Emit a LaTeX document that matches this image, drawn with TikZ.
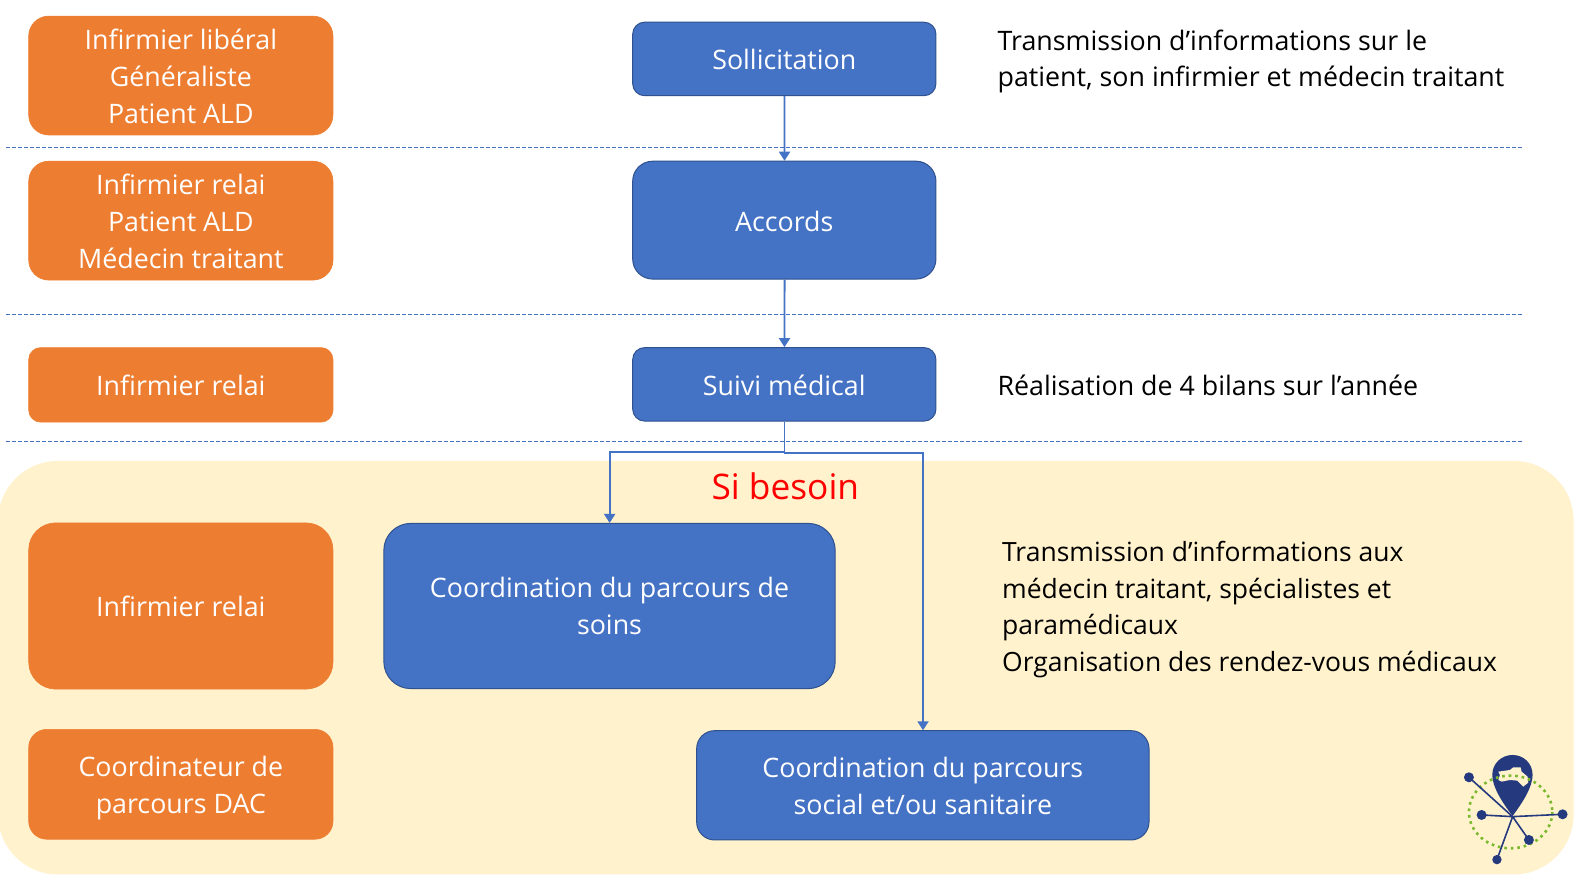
\documentclass[tikz,border=0pt]{standalone}
\usepackage{fontspec}
\setmainfont{Open Sans}
\usetikzlibrary{arrows.meta}
\definecolor{obox}{HTML}{ED7D31}
\definecolor{bbox}{HTML}{4472C4}
\definecolor{bedge}{HTML}{2F528F}
\definecolor{cream}{HTML}{FFF2CC}
\definecolor{navy}{HTML}{25397F}
\definecolor{lgreen}{HTML}{7AB82E}
\newcommand{\nudge}{\rule{0pt}{22.2pt}}
\tikzset{
  every node/.style={transform shape},
  txt/.style={font=\fontsize{26.6}{36.6}\selectfont},
  orangebox/.style={txt,draw=obox,fill=obox,text=white,align=center,inner sep=0pt,line width=.6pt},
  bluebox/.style={txt,draw=bedge,fill=bbox,text=white,align=center,inner sep=0pt,line width=1pt},
  note/.style={txt,text=black,align=left,anchor=west,inner sep=0pt},
  link/.style={draw=bbox,line width=1.9pt,-{Triangle[width=11pt,length=9pt]}},
  sep/.style={draw=bbox,line width=.8pt,dash pattern=on 4pt off 2pt}
}
\begin{document}
\begin{tikzpicture}[x=1pt,y=-1pt,scale=1.0075]
\useasboundingbox (0,0) rectangle (1567.3,874.4);
\fill[white] (0,0) rectangle (1567.3,874.4);
\fill[cream,rounded corners=60pt] (-2,457.5) rectangle (1562,868);
\draw[sep] (6,146) -- (1512,146);
\draw[sep] (6,312) -- (1512,312);
\draw[sep] (6,438) -- (1512,438);
% orange
\node[orangebox,rounded corners=20pt,minimum width=302pt,minimum height=118pt] (o1) at (179.5,75) {\nudge Infirmier libéral\\Généraliste\\Patient ALD};
\node[orangebox,rounded corners=20pt,minimum width=302pt,minimum height=118pt] (o2) at (179.5,219) {\nudge Infirmier relai\\Patient ALD\\Médecin traitant};
\node[orangebox,rounded corners=12pt,minimum width=302pt,minimum height=74pt] (o3) at (179.5,382) {\nudge Infirmier relai};
\node[orangebox,rounded corners=27pt,minimum width=302pt,minimum height=165pt] (o4) at (179.5,601.5) {Infirmier relai};
\node[orangebox,rounded corners=18pt,minimum width=302pt,minimum height=109pt] (o5) at (179.5,778.5) {\rule{0pt}{28pt}Coordinateur de\\parcours DAC};
% blue
\node[bluebox,rounded corners=12pt,minimum width=301pt,minimum height=73pt] (sol) at (778.5,58.5) {\nudge Sollicitation};
\node[bluebox,rounded corners=20pt,minimum width=301pt,minimum height=117pt] (acc) at (778.5,218.5) {\nudge Accords};
\node[bluebox,rounded corners=12pt,minimum width=301pt,minimum height=73pt] (sui) at (778.5,381.5) {\nudge Suivi médical};
\node[bluebox,rounded corners=27pt,minimum width=448pt,minimum height=164pt] (c1) at (605,601.5) {Coordination du parcours de\\soins};
\node[bluebox,rounded corners=18pt,minimum width=449pt,minimum height=108.5pt] (c2) at (916,779.5) {\nudge Coordination du parcours\\social et/ou sanitaire};
% links
\coordinate (jl) at (700,449);
\coordinate (jr) at (800,450);
\draw[link] (sol) -- (acc);
\draw[link] (acc) -- (sui);
\draw[link] (sui.south) -- (sui.south |- jl) -- (c1.north |- jl) -- (c1.north);
\draw[link] (sui.south) -- (sui.south |- jr) -- (c2.north |- jr) -- (c2.north);
% texts
\node[note] (t1) at (990,61) {Transmission d’informations sur le\\patient, son infirmier et médecin traitant};
\node[note] (t2) at (990,383) {Réalisation de 4 bilans sur l’année};
\node[note,font=\fontsize{26.3}{36.6}\selectfont] (t3) at (994.5,605) {Transmission d’informations aux\\médecin traitant, spécialistes et\\paramédicaux\\Organisation des rendez-vous médicaux};
\node[font=\fontsize{35}{42}\selectfont,text=red,inner sep=0pt] (sb) at (779.5,483) {Si besoin};
% logo
\begin{scope}[x=.3308pt,y=-.3308pt,shift={(1419.35pt,-724.57pt)}]
\fill[navy] (248,258) .. controls (215,215) and (187,170) .. (187,135) .. controls (187,100) and (215,75) .. (248,75) .. controls (281,75) and (308,100) .. (308,135) .. controls (308,170) and (280,215) .. (248,258) -- cycle;
\fill[cream] (205,125) -- (240,120) -- (250,112) -- (272,112) -- (275,125) -- (293,140) -- (295,158) -- (280,170) -- (262,152) -- (240,150) -- (215,155) -- (205,150) -- (210,135) -- cycle;
\draw[lgreen,line width=2.6pt,dash pattern=on 2.6pt off 3.9pt] (242,246) ellipse [x radius=125,y radius=109];
\draw[navy,line width=1.6pt] (248,260) -- (117,142) (248,260) -- (155,255) (248,260) -- (398,253) (248,260) -- (297,330) (248,260) -- (201,389);
\fill[navy] (117,142) circle (15) (155,255) circle (15) (398,253) circle (15) (297,330) circle (15) (201,389) circle (14);
\end{scope}
\end{tikzpicture}
\end{document}
